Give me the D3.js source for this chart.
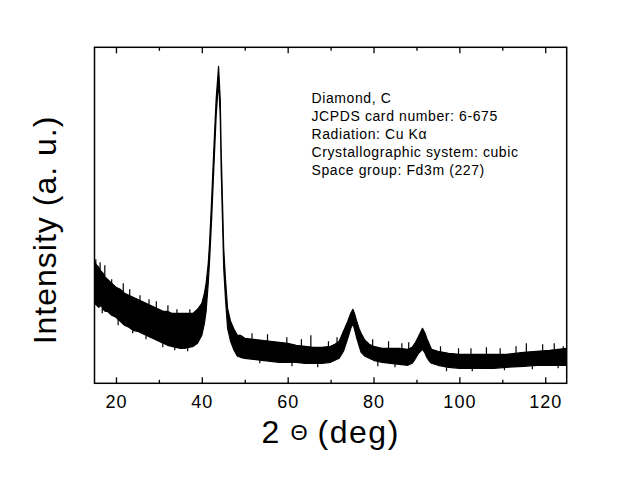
<!DOCTYPE html>
<html>
<head>
<meta charset="utf-8">
<script src="https://cdn.jsdelivr.net/npm/d3@7"></script>
<style>
  html, body { margin: 0; padding: 0; background: #fff; }
  svg { display: block; }
  text { font-family: "Liberation Sans", Arial, Helvetica, sans-serif; fill: #000; }
</style>
</head>
<body>
<svg id="chart" width="630" height="480"></svg>
<script>
// ---- data (intensity in arbitrary units) ----
const twoTheta = [15,15.5,16,16.5,17,17.5,18,18.5,19,20,21,22,23,24,25,26,27,28,29,30,31,32,33,34,35,36,37,38,39,40,40.6,41,41.5,41.8,42.3,42.8,43.35,43.7,43.9,44.1,44.3,44.5,44.8,45.1,45.5,46,46.7,47.5,48.3,49,50,52,54,56,58,60,62,64,66,68,70,71,72,73,74,74.7,75.2,75.7,76.1,76.6,77.1,78,79,80,82,84,86,88,89,89.8,90.5,91.4,92,92.4,93,93.5,95,97.5,100,104,108,111,115,118,121,125];
const upperEnv = [122,118,116,112,110,106,104,102,100,96,94,90,88,86,84,82,80,78,76,74,72,72,70,70,70,70,70,70,74,80,90,100,120,140,185,235,285,305,317,300,283,235,185,135,105,75,62,54,48,48,45,44,43,42,41,40,38,37,36,36,37,39,42,52,62,70,74,68,62,55,50,43,39,37,35,35,35,34,36,41,47,55,50,45,39,34,32,30,29,29,29,29,31,32,33,35];
const lowerEnv = [80,78,76,78,74,72,72,70,68,66,62,58,56,53,52,50,48,46,44,42,40,38,37,36,35,35,36,37,40,48,60,72,100,122,165,215,268,290,302,285,265,215,165,115,85,55,42,33,27,26,25,24,23,22,21,21,21,20,20,20,21,23,25,32,45,55,60,52,45,38,31,27,25,23,21,20,19,18,20,25,30,34,30,26,22,20,18,16,15,15,15,16,17,18,18,18];
// isolated noise spikes above the band and dips below it
const spikeTheta = [15.3,16.3,17.4,19.0,21.7,23.2,25.6,27.7,29.4,32.1,34.2,37.2,51.7,55.3,59.8,63.2,65.4,69.5,71.5,79.8,83.5,86.6,88.2,95.6,99.8,102.7,106.3,109.5,113.2,115.6,119.4,122.1,124.2];
const spikeTop   = [124,121,118,104,100,94,88,84,82,78,74,74,50,49,46,44,48,42,46,44,42,40,41,37,35,35,36,35,37,40,39,40,37];
const dipTheta   = [16.8,20.5,23.9,27.0,30.9,33.7,36.7,53.5,61.0,67.0,81.0,85.0,97.0,103.0,110.5,117.0,123.0];
const dipBottom  = [70,58,50,44,36,33,32,20,17,16,17,16,12,12,13,14,15];

const majorTicks = [20,40,60,80,100,120];
const minorTicks = [30,50,70,90,110];
const annotation = [
  "Diamond, C",
  "JCPDS card number: 6-675",
  "Radiation: Cu K\u03b1",
  "Crystallographic system: cubic",
  "Space group: Fd3m (227)"
];
const xDomain = [15,125];
const yDomain = [0,336];

// ---- layout ----
const W = 630, H = 480;
const m = {left: 94.5, right: 63.3, top: 47.3, bottom: 96.7};
const pw = W - m.left - m.right, ph = H - m.top - m.bottom;

const svg = d3.select("#chart");
const g = svg.append("g").attr("transform", `translate(${m.left},${m.top})`);

const x = d3.scaleLinear().domain(xDomain).range([0, pw]);
const y = d3.scaleLinear().domain(yDomain).range([ph, 0]);

g.append("clipPath").attr("id","clip").append("rect").attr("width", pw).attr("height", ph);

const pts = twoTheta.map((t,i) => ({t, hi: upperEnv[i], lo: lowerEnv[i]}));

const area = d3.area().x(d => x(d.t)).y0(d => y(d.lo)).y1(d => y(d.hi)).curve(d3.curveLinear);
const plot = g.append("g").attr("clip-path","url(#clip)");
plot.append("path").datum(pts).attr("d", area)
  .attr("fill","#000").attr("stroke","#000").attr("stroke-width",1.2).attr("stroke-linejoin","round");

// interpolate an envelope at a given angle
const interp = (arr, t) => {
  const i = d3.bisectLeft(twoTheta, t);
  if (i <= 0) return arr[0];
  if (i >= twoTheta.length) return arr[arr.length-1];
  const t0 = twoTheta[i-1], t1 = twoTheta[i];
  const f = (t - t0) / (t1 - t0);
  return arr[i-1] + f*(arr[i]-arr[i-1]);
};
const spikes = spikeTheta.map((t,i) => ({t, a: interp(upperEnv, t), b: spikeTop[i]}));
const dips = dipTheta.map((t,i) => ({t, a: interp(lowerEnv, t), b: dipBottom[i]}));
plot.selectAll("line.spike").data(spikes.concat(dips)).join("line").attr("class","spike")
  .attr("x1", d => x(d.t)).attr("x2", d => x(d.t))
  .attr("y1", d => y(d.a)).attr("y2", d => y(d.b))
  .attr("stroke","#000").attr("stroke-width",1.2);

// ---- axes ----
const bottomAxis = d3.axisBottom(x).tickValues(majorTicks).tickSize(-6).tickPadding(12).tickFormat(d3.format("d"));
const gb = g.append("g").attr("transform", `translate(0,${ph})`).call(bottomAxis);
gb.select(".domain").remove();
gb.selectAll("line").attr("stroke","#000").attr("stroke-width",1.3);
gb.selectAll("text").attr("font-size","18px").attr("letter-spacing","1px")
  .attr("font-family","'Liberation Sans', Arial, sans-serif").attr("fill","#000");

const gbm = g.append("g").attr("transform", `translate(0,${ph})`)
  .call(d3.axisBottom(x).tickValues(minorTicks).tickSize(-3.5).tickFormat(""));
gbm.select(".domain").remove();
gbm.selectAll("line").attr("stroke","#000").attr("stroke-width",1.3);

const gt = g.append("g").call(d3.axisTop(x).tickValues(majorTicks).tickSize(-6).tickFormat(""));
gt.select(".domain").remove();
gt.selectAll("line").attr("stroke","#000").attr("stroke-width",1.3);
const gtm = g.append("g").call(d3.axisTop(x).tickValues(minorTicks).tickSize(-3.5).tickFormat(""));
gtm.select(".domain").remove();
gtm.selectAll("line").attr("stroke","#000").attr("stroke-width",1.3);

// frame
g.append("rect").attr("x",0).attr("y",0).attr("width",pw).attr("height",ph)
  .attr("fill","none").attr("stroke","#000").attr("stroke-width",1.5);

// ---- annotation ----
const ann = g.append("text").attr("font-size","14px").attr("letter-spacing","0.6px");
ann.selectAll("tspan").data(annotation).join("tspan")
  .attr("x", 217).attr("y", (d,i) => 56 + i*18).text(d => d);

// ---- axis titles ----
const cx = m.left + pw/2;
const xt = svg.append("text").attr("font-size","32px").attr("letter-spacing","1.5px").attr("y", 443);
xt.append("tspan").attr("x", cx - 69).text("2");
xt.append("tspan").attr("x", cx - 40).attr("y", 440).attr("font-size","22px").attr("letter-spacing","0px").text("\u0398");
xt.append("tspan").attr("x", cx - 13).attr("y", 443).text("(deg)");

svg.append("text").attr("font-size","32px").attr("letter-spacing","1px")
  .attr("text-anchor","middle")
  .attr("transform", `translate(56,230) rotate(-90)`)
  .text("Intensity (a. u.)");
</script>
</body>
</html>
